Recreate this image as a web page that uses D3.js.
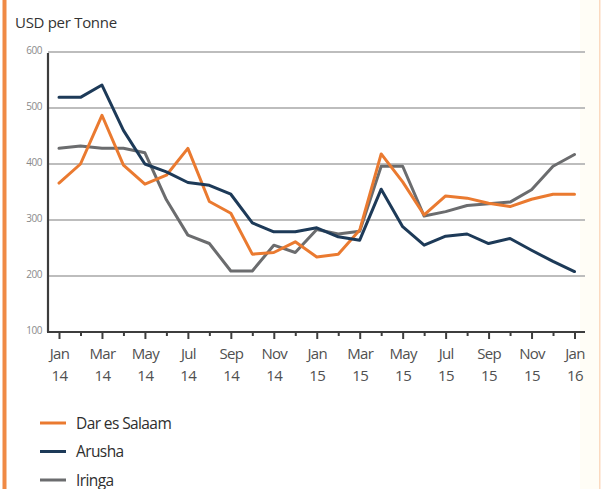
<!DOCTYPE html>
<html>
<head>
<meta charset="utf-8">
<script src="https://cdn.jsdelivr.net/npm/d3@7"></script>
<style>
  html, body { margin: 0; padding: 0; background: #fff; }
  svg { display: block; }
  text { font-family: "Open Sans", "Liberation Sans", sans-serif; }
</style>
</head>
<body>
<svg id="chart" width="603" height="489"></svg>
<script>
// Monthly wholesale prices, Jan 2014 – Jan 2016 (USD per tonne)
const months = ["Jan 14","Feb 14","Mar 14","Apr 14","May 14","Jun 14","Jul 14","Aug 14","Sep 14","Oct 14","Nov 14","Dec 14",
                "Jan 15","Feb 15","Mar 15","Apr 15","May 15","Jun 15","Jul 15","Aug 15","Sep 15","Oct 15","Nov 15","Dec 15","Jan 16"];
const darEsSalaam = [366,400,487,398,364,380,428,333,312,239,242,261,234,239,282,418,368,309,343,339,330,324,337,346,346];
const arusha      = [519,519,541,460,400,386,367,362,346,295,279,279,286,270,264,355,288,255,271,275,258,267,246,226,208];
const iringa      = [428,432,428,428,420,336,273,258,209,209,255,242,283,275,280,396,396,307,315,326,329,332,354,396,417];
const yTicks = [100,200,300,400,500,600];
const seriesNames = ["Dar es Salaam","Arusha","Iringa"];

const colors = {"Dar es Salaam":"#ea7a30","Arusha":"#1d3a58","Iringa":"#6b6c6e"};
const series = [
  {name:"Dar es Salaam", values: darEsSalaam},
  {name:"Arusha", values: arusha},
  {name:"Iringa", values: iringa}
];

const svg = d3.select("#chart");

// page frame: orange rule on the left, faint rule on the right
svg.append("rect").attr("x",2.5).attr("y",0).attr("width",4).attr("height",489).attr("fill","#f08a45");
svg.append("rect").attr("x",580).attr("y",0).attr("width",19).attr("height",489).attr("fill","#fffdf6");
svg.append("rect").attr("x",599).attr("y",0).attr("width",1.5).attr("height",489).attr("fill","#fbd9bf");

svg.append("text").attr("x",15).attr("y",28).attr("font-size",15).attr("fill","#333")
  .attr("letter-spacing","-0.3").text("USD per Tonne");

const x = d3.scaleLinear().domain([0, months.length-1]).range([59, 574.5]);
const y = d3.scaleLinear().domain([100,600]).range([332, 52]);
const left = 48, right = 585;

// gridlines
svg.append("g").selectAll("line").data(yTicks.filter(d=>d>100)).join("line")
  .attr("x1",left).attr("x2",right).attr("y1",d=>y(d)).attr("y2",d=>y(d))
  .attr("stroke","#bdbdbd").attr("stroke-width",2);

// y axis
const yAxis = d3.axisLeft(y).tickValues(yTicks).tickSize(0).tickPadding(6);
const gy = svg.append("g").attr("transform",`translate(${left},0)`).call(yAxis);
gy.select(".domain").remove();
gy.selectAll("text").attr("font-size",10).attr("fill","#8a8a8a").attr("dy","0.1em")
  .attr("letter-spacing","-0.5");
svg.append("line").attr("x1",left).attr("x2",left).attr("y1",y(600)+1).attr("y2",y(100))
  .attr("stroke","#3d3d3d").attr("stroke-width",2.2);

// x axis: minor tick every month, labelled major tick every two months
const xAxisMinor = d3.axisBottom(x).tickValues(d3.range(1, months.length, 2)).tickSize(4).tickFormat("");
const gxm = svg.append("g").attr("transform",`translate(0,${y(100)})`).call(xAxisMinor);
gxm.select(".domain").remove();
gxm.selectAll("line").attr("stroke","#3d3d3d").attr("stroke-width",2);

const xAxis = d3.axisBottom(x).tickValues(d3.range(0, months.length, 2)).tickSize(7).tickFormat("");
const gx = svg.append("g").attr("transform",`translate(0,${y(100)})`).call(xAxis);
gx.select(".domain").remove();
gx.selectAll("line").attr("stroke","#3d3d3d").attr("stroke-width",2);
gx.selectAll(".tick").each(function(i){
  const parts = months[i].split(" ");
  const t = d3.select(this);
  t.append("text").attr("y",27).attr("text-anchor","middle").attr("font-size",15)
    .attr("fill","#505050").attr("letter-spacing","-0.7").text(parts[0]);
  t.append("text").attr("y",49).attr("text-anchor","middle").attr("font-size",15)
    .attr("fill","#505050").attr("letter-spacing","-0.5").text(parts[1]);
});
svg.append("line").attr("x1",left-1).attr("x2",right).attr("y1",y(100)).attr("y2",y(100))
  .attr("stroke","#3d3d3d").attr("stroke-width",2.2);

// price lines
const line = d3.line().x((d,i)=>x(i)).y(d=>y(d));
const drawOrder = ["Iringa","Dar es Salaam","Arusha"];
svg.append("g").selectAll("path").data(drawOrder.map(n=>series.find(s=>s.name===n))).join("path")
  .attr("d",d=>line(d.values)).attr("fill","none")
  .attr("stroke",d=>colors[d.name]).attr("stroke-width",3)
  .attr("stroke-linejoin","round").attr("stroke-linecap","round");

// legend
const lg = svg.append("g").selectAll("g").data(seriesNames).join("g")
  .attr("transform",(d,i)=>`translate(40,${423 + i*28.5})`);
lg.append("line").attr("x1",0).attr("x2",26).attr("stroke",d=>colors[d]).attr("stroke-width",3);
lg.append("text").attr("x",36).attr("y",5.5).attr("font-size",15.5).attr("fill","#2e2e2e")
  .attr("letter-spacing","-0.6").text(d=>d);
</script>
</body>
</html>
